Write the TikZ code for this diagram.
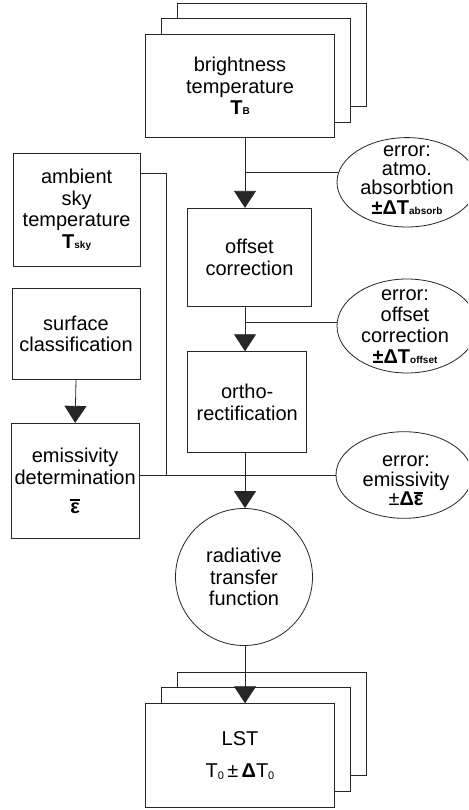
\documentclass[tikz,border=0pt]{standalone}
\usepackage{fontspec}
\setmainfont{Liberation Sans}
\usetikzlibrary{arrows.meta,shapes.geometric}
\newcommand\subb[1]{{\fontsize{10}{10}\selectfont\bfseries #1}}
\newcommand\subr[1]{\raisebox{-2.5pt}{\fontsize{11}{11}\selectfont #1}}
\newcommand\epsbar{{\bfseries\setbox0\hbox{ε}\rlap{\rule[\dimexpr\ht0+1.3pt\relax]{\wd0}{1.7pt}}\box0}}
\begin{document}
\begin{tikzpicture}[x=1pt,y=-1pt,
  lbl/.style={font=\fontsize{20}{21.7}\selectfont, align=center, inner sep=0pt},
  box/.style={lbl, draw=black!85, line width=0.8pt, fill=white, rectangle},
  errell/.style={ellipse, draw=black!85, line width=0.8pt, fill=white, inner sep=0pt},
  circ/.style={lbl, circle, draw=black!85, line width=0.8pt, fill=white, minimum size=137pt},
  conn/.style={draw=black!85, line width=0.8pt},
  arr/.style={conn, -{Triangle[width=22pt,length=17pt]}}]
\useasboundingbox (0,0) rectangle (468,810);
\clip (0,0) rectangle (468,810);
\coordinate (mx) at (245,0);
% brightness temperature stack
\node[box, minimum width=188.6pt, minimum height=103.4pt] (bright3) at (271.65,55) {};
\node[box, minimum width=188.6pt, minimum height=103.4pt] (bright2) at (255.85,70.35) {};
\node[box, minimum width=188.6pt, minimum height=103.4pt] (bright1) at (240,86) {brightness\\temperature\\{\bfseries T}\subb{B}};
% left column
\node[box, minimum width=126.7pt, minimum height=112.7pt] (amb) at (76.65,209.65) {ambient\\sky\\temperature\\{\bfseries T}\subb{sky}};
\node[box, minimum width=128pt, minimum height=91pt] (surf) at (76,333.8) {surface\\classification};
\node[box, minimum width=128.3pt, minimum height=115pt] (emis) at (75.15,480.8) {emissivity\\determination\\[7pt]\epsbar};
% center column
\node[box, minimum width=124.4pt, minimum height=97.7pt] (offs) at (249.5,257.15) {offset\\correction};
\node[box, minimum width=119pt, minimum height=100.6pt] (ortho) at (247.2,402) {ortho-\\rectification};
\node[circ] (rtf) at (244,577) {radiative\\transfer\\function};
% LST stack
\node[box, minimum width=188.6pt, minimum height=103.6pt] (lst3) at (271.65,723.8) {};
\node[box, minimum width=188.6pt, minimum height=103.6pt] (lst2) at (255.85,739.65) {};
\node[box, minimum width=188.6pt, minimum height=103.6pt] (lst1) at (240,755.5) {LST\\[10pt]T\subr{0}\,±\,{\bfseries Δ}T\subr{0}};
% error ellipses
\node[errell, minimum width=140pt, minimum height=89.4pt] (atmo) at (407,182.3) {};
\node[lbl, font=\fontsize{20}{19.2}\selectfont] (atmotxt) at (407,180) {error:\\atmo.\\absorbtion\\{\bfseries ±ΔT}\subb{absorb}};
\node[errell, minimum width=140pt, minimum height=94pt] (oerr) at (407,326) {};
\node[lbl, font=\fontsize{20}{21}\selectfont] (oerrtxt) at (405,326.5) {error:\\offset\\correction\\{\bfseries ±ΔT}\subb{offset}};
\node[errell, minimum width=136pt, minimum height=86.6pt] (eerr) at (404,475) {};
\node[lbl, font=\fontsize{20}{19.5}\selectfont] (eerrtxt) at (406,481) {error:\\emissivity\\±{\bfseries Δ}\epsbar};
% connectors
\coordinate (ja) at (166,173);
\coordinate (jb) at (166,475);
\draw[conn] (atmo.172.3) -- (atmo.172.3 -| mx);
\draw[conn] (oerr.177.5) -- (oerr.177.5 -| mx);
\draw[conn] (amb.east |- ja) -- (ja) -- (jb);
\draw[conn] (emis.east |- jb) -- (eerr.west);
\draw[arr] (bright1.south -| mx) -- (offs.north -| mx);
\draw[arr] (offs.south -| mx) -- (ortho.north -| mx);
\draw[arr] (surf.south) -- (emis.north);
\draw[arr] (ortho.south -| mx) -- (rtf.north -| mx);
\draw[arr] (rtf.south -| mx) -- (lst1.north -| mx);
\end{tikzpicture}
\end{document}
